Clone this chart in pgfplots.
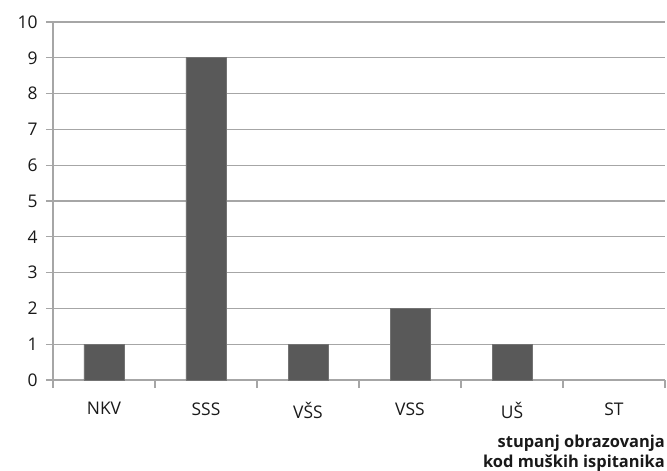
\documentclass[border=0pt]{standalone}
\usepackage{pgfplots}
\pgfplotsset{compat=1.18}
\usepackage{fontspec}
\setmainfont{Open Sans}
\definecolor{bargray}{HTML}{595959}
\definecolor{gridgray}{HTML}{A6A6A6}
\begin{document}
\begin{tikzpicture}
\path[use as bounding box] (-53bp,-91bp) rectangle (614bp,380bp);
\begin{axis}[
  at={(0,0)}, anchor=south west,
  scale only axis,
  width=612bp, height=358bp,
  xmin=-0.5, xmax=5.5,
  ymin=0, ymax=10,
  ytick={0,1,...,10},
  xtick={0,...,5},
  xticklabels={NKV,SSS,VŠS,VSS,UŠ,ST},
  minor xtick={-0.5,0.5,1.5,2.5,3.5,4.5,5.5},
  major x tick style={draw=none},
  minor x tick style={draw=gridgray, line width=1.2bp},
  minor tick length=8bp,
  axis x line=bottom, axis y line=left,
  axis line style={draw=gridgray, line width=1.2bp, -},
  tick align=outside,
  major tick length=7bp,
  ytick style={draw=gridgray, line width=1.2bp},
  ymajorgrids,
  grid style={draw=gridgray, line width=1.2bp},
  tick label style={font=\fontsize{17.5}{20}\selectfont, text=black!90},
  /pgf/number format/assume math mode=true,
  xticklabel style={yshift=-12bp},
  yticklabel style={xshift=-5bp},
  xlabel={stupanj obrazovanja\\kod muških ispitanika},
  xlabel style={at={(rel axis cs:1,0)}, anchor=north east, yshift=-55bp, align=right,
    font=\bfseries\fontsize{16.5}{19.5}\selectfont, text=black!90, inner sep=0pt},
  ybar, bar width=40bp, bar shift=0pt,
  clip=false,
]
\addplot[fill=bargray, draw=black!55, line width=0.6bp] coordinates {
  (0,1) (1,9) (2,1) (3,2) (4,1)
};
\end{axis}
\end{tikzpicture}
\end{document}
